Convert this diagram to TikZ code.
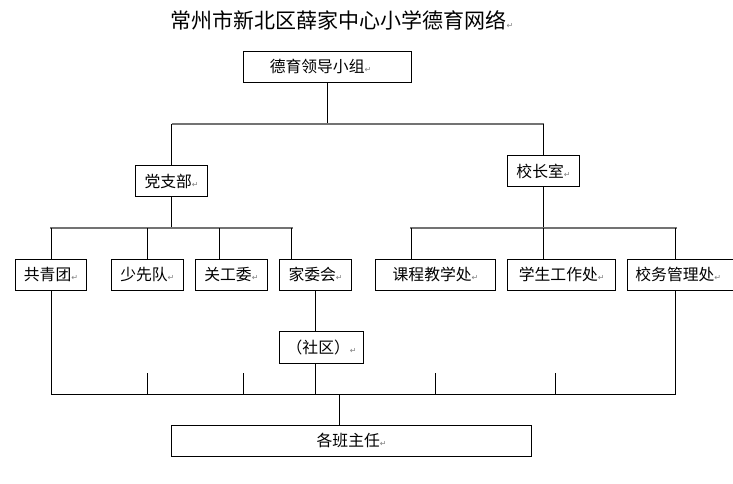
\documentclass[tikz,border=0pt]{standalone}
\usepackage{fontspec}
\setmainfont{Noto Sans CJK SC}
\newfontfamily\djv{DejaVu Sans}
\usetikzlibrary{positioning}
\newcommand{\pmark}{{\djv\fontsize{8}{8}\selectfont\textcolor{gray}{↵}}}
\tikzset{
  orgbox/.style={draw=black, line width=1pt, fill=white, inner sep=0pt,
    minimum height=31pt, font=\fontsize{15.8}{18}\selectfont},
  link/.style={draw=black, line width=1pt},
  bar/.style={draw=black!55, line width=2pt},
}
\begin{document}
\begin{tikzpicture}[x=1pt,y=-1pt]
\path[use as bounding box] (0,0) rectangle (733,483);
\clip (0,0) rectangle (733,483);
\fill[white] (0,0) rectangle (733,483);
% title
\node[font=\fontsize{21}{24}\selectfont] (title) at (342,20) {常州市新北区薛家中心小学德育网络\pmark};
% boxes
\node[orgbox, minimum width=167.8pt] (top) at (327.5,66.7) {德育领导小组\pmark\hspace*{14pt}};
\node[orgbox, minimum width=72pt, minimum height=31.4pt] (dang) at (171.6,181) {党支部\pmark};
\node[orgbox, minimum width=72pt, minimum height=31.4pt] (xiao) at (543.5,171) {校长室\pmark};
\node[orgbox, minimum width=71pt] (gqt) at (51,274.8) {共青团\pmark};
\node[orgbox, minimum width=72pt] (sxd) at (147.3,274.8) {少先队\pmark};
\node[orgbox, minimum width=72pt] (ggw) at (231.4,274.8) {关工委\pmark};
\node[orgbox, minimum width=72pt] (jwh) at (315.6,274.8) {家委会\pmark};
\node[orgbox, minimum width=120.2pt] (kc) at (435.5,274.8) {课程教学处\pmark};
\node[orgbox, minimum width=108pt] (xs) at (561.7,274.8) {学生工作处\pmark};
\node[orgbox, minimum width=113pt, text width=113pt, align=left] (xw) at (683.9,274.8) {\hspace*{8pt}校务管理处\pmark};
\node[orgbox, minimum width=84pt, minimum height=32.3pt] (sq) at (321.6,347.2) {（社区）\pmark};
\node[orgbox, minimum width=360pt] (bz) at (351.6,440.8) {各班主任\pmark};
% junction coordinates
\coordinate (t1) at (327.5,124);
\coordinate (tl) at (171.6,124);
\coordinate (tr) at (543.5,124);
\coordinate (d1) at (171.6,228.3);
\coordinate (dl) at (51.4,228.3);
\coordinate (dr) at (291.7,228.3);
\coordinate (da) at (147.7,228.3);
\coordinate (db) at (219.7,228.3);
\coordinate (x1) at (543.5,228.3);
\coordinate (xl) at (411.4,228.3);
\coordinate (xr) at (675.5,228.3);
\coordinate (bl) at (51.4,394);
\coordinate (br) at (675.5,394);
\coordinate (bm) at (339.4,394);
\coordinate (bs) at (315.1,394);
\coordinate (k1) at (147.7,373.3);
\coordinate (k1b) at (147.7,394);
\coordinate (k2) at (243.6,373.3);
\coordinate (k2b) at (243.6,394);
\coordinate (k3) at (435.7,373.3);
\coordinate (k3b) at (435.7,394);
\coordinate (k4) at (555.4,373.3);
\coordinate (k4b) at (555.4,394);
% top level
\draw[link] (top.south) -- (t1);
\draw[bar] (tl) -- (tr);
\draw[link] (tl) -- (dang.north);
\draw[link] (tr) -- (xiao.north);
% party branch
\draw[link] (dang.south) -- (d1);
\draw[bar] ([xshift=-1pt]dl) -- ([xshift=1pt]dr);
\draw[link] (dl) -- (dl |- gqt.north);
\draw[link] (da) -- (da |- sxd.north);
\draw[link] (db) -- (db |- ggw.north);
\draw[link] (dr) -- (dr |- jwh.north);
% principal office
\draw[link] (xiao.south) -- (x1);
\draw[bar] ([xshift=-1pt]xl) -- ([xshift=1pt]xr);
\draw[link] (xl) -- (xl |- kc.north);
\draw[link] (x1) -- (x1 |- xs.north);
\draw[link] (xr) -- (xr |- xw.north);
% community
\draw[link] (jwh.south -| bs) -- (sq.north -| bs);
\draw[link] (sq.south -| bs) -- (bs);
% bottom bar
\draw[link] (gqt.south -| bl) -- (bl) -- (br) -- (xw.south -| br);
\draw[link] (k1) -- (k1b);
\draw[link] (k2) -- (k2b);
\draw[link] (k3) -- (k3b);
\draw[link] (k4) -- (k4b);
\draw[link] (bm) -- (bz.north -| bm);
\end{tikzpicture}
\end{document}
